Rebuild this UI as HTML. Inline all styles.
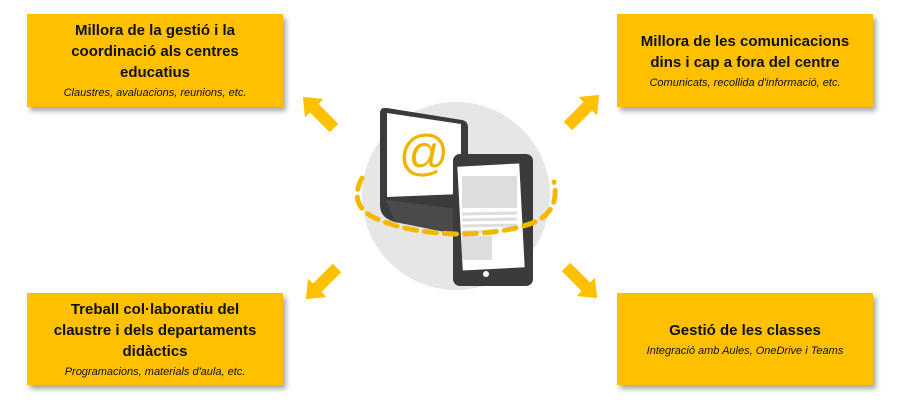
<!DOCTYPE html><html><head><meta charset="utf-8"><style>
body{margin:0;width:902px;height:404px;background:#fff;position:relative;overflow:hidden;font-family:"Liberation Sans",sans-serif}
.b{position:absolute;width:256px;background:#FFC000;box-shadow:3px 4px 5px rgba(0,0,0,.35);text-align:center;color:#111;box-sizing:border-box;display:flex;flex-direction:column;justify-content:center}
.t{font-weight:bold;font-size:15px;line-height:21px}
.s{font-style:italic;font-size:11px;line-height:16px;margin-top:2px}
</style></head><body>
<div class="b" style="left:27px;top:14px;height:93px"><div class="t">Millora de la gestió i la<br>coordinació als centres<br>educatius</div><div class="s">Claustres, avaluacions, reunions, etc.</div></div>
<div class="b" style="left:617px;top:14px;height:93px"><div class="t">Millora de les comunicacions<br>dins i cap a fora del centre</div><div class="s">Comunicats, recollida d'informació, etc.</div></div>
<div class="b" style="left:27px;top:293px;height:92px"><div class="t">Treball col·laboratiu del<br>claustre i dels departaments<br>didàctics</div><div class="s">Programacions, materials d'aula, etc.</div></div>
<div class="b" style="left:617px;top:293px;height:92px"><div class="t">Gestió de les classes</div><div class="s">Integració amb Aules, OneDrive i Teams</div></div>
<svg width="902" height="404" style="position:absolute;left:0;top:0">
<defs><g id="ar"><polygon points="0,-6 28,-6 28,-13 44,0 28,13 28,6 0,6" fill="#FFC000"/></g></defs>
<use href="#ar" transform="translate(334,128) rotate(-135)"/>
<use href="#ar" transform="translate(568,126) rotate(-45)"/>
<use href="#ar" transform="translate(337,268) rotate(135)"/>
<use href="#ar" transform="translate(566,267) rotate(45)"/>
<circle cx="456" cy="196" r="94" fill="#e6e6e6"/>
<path d="M380,113 Q380,107 387,108 L462,120 Q468,121 468,128 L468,225 L460,235 L395,222 Q380,218 380,205Z" fill="#3b3b3b"/>
<path d="M387,113 L461,124 L461,194 L387,197Z" fill="#fff"/>
<path d="M386,200 L466,210 L460,234 L395,222Z" fill="#4a4a4a"/>
<text x="424" y="170" font-size="50" fill="#f0b400" text-anchor="middle" font-family="Liberation Sans">@</text>
<rect x="453" y="154" width="80" height="132" rx="7" fill="#3b3b3b"/>
<rect x="460" y="165" width="62" height="104" fill="#fff" transform="rotate(-3 491 217)"/>
<rect x="462" y="176" width="55" height="32" fill="#ddd"/>
<g stroke="#ddd" stroke-width="3"><line x1="462" y1="214" x2="517" y2="213"/><line x1="462" y1="220" x2="517" y2="219"/><line x1="462" y1="226" x2="517" y2="225"/><line x1="462" y1="232" x2="493" y2="231"/></g>
<rect x="462" y="236" width="30" height="24" fill="#ddd"/>
<circle cx="486" cy="274" r="3" fill="#fff"/>
<path d="M362,178 Q348,205 375,218 Q405,232 455,234 Q505,234 535,222 Q560,210 554,182" fill="none" stroke="#f2b800" stroke-width="5" stroke-dasharray="12 8" stroke-linecap="round"/>
</svg>
</body></html>
